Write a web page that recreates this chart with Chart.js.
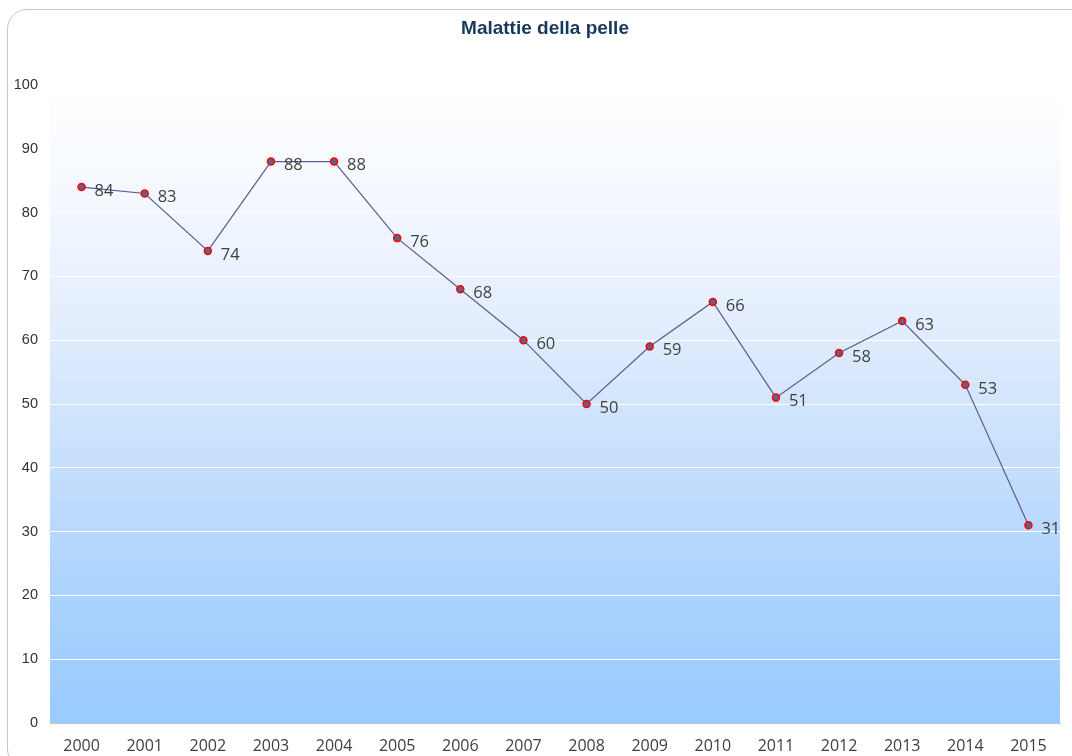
<!DOCTYPE html>
<html>
<head>
<meta charset="utf-8">
<title>Malattie della pelle</title>
<script src="https://cdn.jsdelivr.net/npm/chart.js@4.4.1/dist/chart.umd.min.js"></script>
<style>
  body { margin: 0; background: #ffffff; }
  #wrap { position: relative; width: 1072px; height: 756px; overflow: hidden; }
  #frame {
    position: absolute; left: 7px; top: 9px; width: 1090px; height: 760px;
    border: 1px solid #c8c8c8; border-radius: 20px; box-sizing: border-box;
  }
  #chart { position: absolute; left: 0; top: 0; }
</style>
</head>
<body>
<div id="wrap">
  <div id="frame"></div>
  <canvas id="chart" width="1072" height="756"></canvas>
</div>
<script>
const chartTitle = "Malattie della pelle";
const years = ["2000", "2001", "2002", "2003", "2004", "2005", "2006", "2007",
               "2008", "2009", "2010", "2011", "2012", "2013", "2014", "2015"];
const cases = [84, 83, 74, 88, 88, 76, 68, 60, 50, 59, 66, 51, 58, 63, 53, 31];
const yTicks = [0, 10, 20, 30, 40, 50, 60, 70, 80, 90, 100];

// gradient behind the plot area, white on top to light blue at the bottom
const plotBackground = {
  id: "plotBackground",
  beforeDraw(chart) {
    const { ctx, chartArea: a } = chart;
    const g = ctx.createLinearGradient(0, a.top, 0, a.bottom);
    g.addColorStop(0, "#ffffff");
    g.addColorStop(0.18, "#f4f8ff");
    g.addColorStop(0.38, "#e2edfd");
    g.addColorStop(0.57, "#c9e0fd");
    g.addColorStop(0.79, "#acd3fe");
    g.addColorStop(1, "#99cbfe");
    ctx.save();
    ctx.fillStyle = g;
    ctx.fillRect(a.left, a.top, a.right - a.left, a.bottom - a.top);
    ctx.restore();
  }
};

// title and value labels
const labelsPlugin = {
  id: "labelsPlugin",
  afterDraw(chart) {
    const ctx = chart.ctx;
    ctx.save();
    ctx.font = "bold 19px 'Liberation Sans', Arial, sans-serif";
    ctx.fillStyle = "#17375e";
    ctx.textAlign = "center";
    ctx.textBaseline = "middle";
    ctx.fillText(chartTitle, 545, 29);

    ctx.font = "16.5px 'Open Sans', sans-serif";
    ctx.fillStyle = "#404040";
    ctx.textAlign = "left";
    chart.getDatasetMeta(0).data.forEach((pt, i) => {
      ctx.fillText(String(cases[i]), pt.x + 13, pt.y + 4);
    });
    ctx.restore();
  }
};

new Chart(document.getElementById("chart"), {
  type: "line",
  data: {
    labels: years,
    datasets: [{
      data: cases,
      borderColor: "#5b5b8f",
      borderWidth: 1.2,
      tension: 0,
      pointRadius: 3.5,
      pointHoverRadius: 3.5,
      pointBackgroundColor: "#60608c",
      pointBorderColor: "#ff0000",
      pointBorderWidth: 1.5
    }]
  },
  options: {
    responsive: false,
    animation: false,
    events: [],
    layout: { padding: { top: 85, right: 12, left: 0, bottom: 0 } },
    plugins: {
      legend: { display: false },
      tooltip: { enabled: false }
    },
    scales: {
      x: {
        offset: true,
        grid: { display: false, drawTicks: false },
        border: { display: true, color: "#c0c8d4" },
        ticks: {
          color: "#404040",
          font: { family: "'Open Sans', sans-serif", size: 16 },
          padding: 14,
          maxRotation: 0,
          autoSkip: false
        },
        afterFit(scale) { scale.height = 33; }
      },
      y: {
        min: 0,
        max: 100,
        afterBuildTicks(scale) { scale.ticks = yTicks.map(v => ({ value: v })); },
        grid: { color: "#ffffff", lineWidth: 1, drawTicks: false },
        border: { display: false },
        ticks: {
          color: "#333333",
          font: { family: "'Liberation Sans', Arial, sans-serif", size: 14.5 },
          padding: 12
        },
        afterFit(scale) { scale.width = 50; }
      }
    }
  },
  plugins: [plotBackground, labelsPlugin]
});
</script>
</body>
</html>
